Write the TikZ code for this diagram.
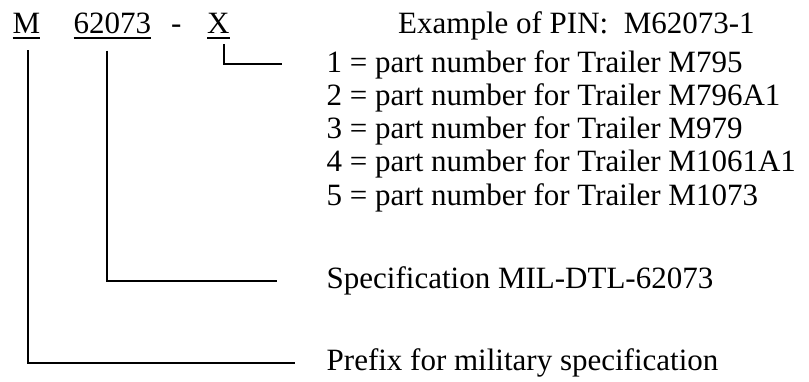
\documentclass[tikz,border=0pt]{standalone}
\usepackage{fontspec}
\setmainfont{Liberation Serif}
\begin{document}
\begin{tikzpicture}[x=1pt,y=-1pt,
		pinpart/.style={inner sep=0pt, anchor=base west, font=\fontsize{31}{33}\selectfont},
		desc/.style={inner sep=0pt, anchor=base west, font=\fontsize{31}{33}\selectfont},
		lead/.style={line width=2pt},
		uline/.style={line width=1.6pt}
	]
	\useasboundingbox (0,0) rectangle (809,381);

	% parts of the PIN
	\node[pinpart] (pm) at (12.5,33) {M};
	\node[pinpart] (pnum) at (73.5,33) {62073};
	\node[pinpart] (pdash) at (171,33) {-};
	\node[pinpart] (px) at (207,33) {X};

	\foreach \p in {pm,pnum,px}
		\draw[uline] ([yshift=-5pt]\p.base west) -- ([yshift=-5pt]\p.base east);

	% descriptions
	\node[desc] (example) at (398,33) {Example of PIN:\ \ M62073-1};

	\foreach \n/\t [count=\i] in {1/M795, 2/M796A1, 3/M979, 4/M1061A1, 5/M1073}
		\node[desc] (d\n) at (326.5,{72+33.25*(\i-1)}) {\n\ = part number for Trailer \t};

	\node[desc, anchor=west] (spec) at (326.5,281) {Specification MIL-DTL-62073};
	\node[desc, anchor=west] (prefix) at (326.5,363) {Prefix for military specification};

	% leaders
	\draw[lead] ([xshift=5.8pt,yshift=-11pt]px.south) |- ([xshift=-44.5pt]d1.west);
	\draw[lead] ([xshift=-5.5pt,yshift=-17pt]pnum.south) |- ([xshift=-49.5pt]spec.west);
	\draw[lead] ([xshift=2pt,yshift=-17pt]pm.south) |- ([xshift=-31.5pt]prefix.west);
\end{tikzpicture}
\end{document}
